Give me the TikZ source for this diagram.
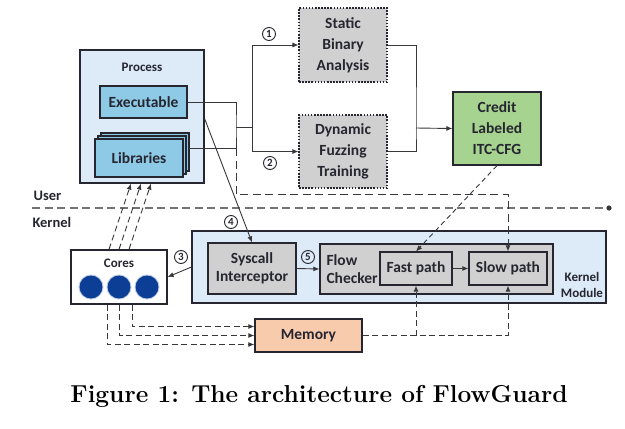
\documentclass[tikz,border=0pt]{standalone}
\usepackage{fontspec}
\usepackage{tikz}
\usetikzlibrary{arrows.meta, positioning, calc, shadows}
\newfontfamily\diagfont{Carlito}
\definecolor{procblue}{RGB}{221,234,247}
\definecolor{fileblue}{RGB}{142,202,230}
\definecolor{boxgray}{RGB}{208,208,208}
\definecolor{cfggreen}{RGB}{166,211,143}
\definecolor{memorange}{RGB}{248,203,173}
\definecolor{coreblue}{RGB}{12,62,150}
\definecolor{ink}{RGB}{38,38,48}
\definecolor{wire}{RGB}{55,55,60}
\definecolor{dashgray}{RGB}{115,115,115}
\tikzset{
    box/.style={draw=ink, line width=1.2pt, text=ink, align=center, inner sep=0pt,
        font=\diagfont\bfseries\fontsize{15.5}{21}\selectfont},
    proc_box/.style={box, fill=procblue},
    file_box/.style={box, fill=fileblue},
    gray_box/.style={box, fill=boxgray},
    dotted_box/.style={box, fill=boxgray, line width=1.1pt, dash pattern=on 1.6pt off 1.5pt},
    small_label/.style={text=ink, align=center, font=\diagfont\bfseries\fontsize{13}{16}\selectfont},
    side_label/.style={text=ink, font=\diagfont\bfseries\fontsize{14.5}{17}\selectfont},
    num_label/.style={circle, draw=ink, line width=0.9pt, minimum size=13pt, inner sep=0pt,
        text=ink, font=\diagfont\bfseries\fontsize{11}{12}\selectfont},
    core/.style={circle, fill=coreblue, minimum size=23pt, inner sep=0pt,
        preaction={draw=coreblue!25, line width=2pt}},
    wire_line/.style={draw=wire, line width=0.9pt},
    conn/.style={wire_line, -{Latex[length=6pt,width=5pt]}},
    dashed_conn/.style={conn, dash pattern=on 6pt off 3.5pt},
    dashed_line/.style={draw=dashgray, line width=1.3pt, dash pattern=on 8pt off 4.5pt}
}
\begin{document}
\begin{tikzpicture}[x=1pt, y=-1pt]
    \useasboundingbox (0,0) rectangle (625,429);
    % Process with its files
    \node[proc_box, minimum width=124pt, minimum height=133pt] (proc) at (142,116.5) {};
    \node[small_label] (proclabel) at (142,67) {Process};
    \node[file_box, minimum width=87pt, minimum height=32pt] (exe) at (143.5,102) {Executable};
    \node[file_box, minimum width=88pt, minimum height=38pt,
        double copy shadow={shadow xshift=3pt, shadow yshift=3pt}] (lib) at (139,158) {Libraries};
    % Offline analysis
    \node[dotted_box, minimum width=88pt, minimum height=74pt] (stat) at (343,45) {Static\\Binary\\Analysis};
    \node[dotted_box, minimum width=88pt, minimum height=73pt] (dyn) at (343,151.5) {Dynamic\\Fuzzing\\Training};
    \node[box, fill=cfggreen, minimum width=88pt, minimum height=73pt] (cfg) at (497,128.5) {Credit\\Labeled\\ITC-CFG};
    % Kernel module
    \node[proc_box, minimum width=414pt, minimum height=72pt] (kmod) at (399,267) {};
    \node[small_label] (kmodlabel) at (582,285) {Kernel\\Module};
    \node[gray_box, minimum width=88pt, minimum height=51pt,
        font=\diagfont\bfseries\fontsize{15.5}{18.5}\selectfont] (sys) at (252,268.5) {Syscall\\Interceptor};
    \node[gray_box, minimum width=233pt, minimum height=50pt] (flow) at (436.5,269) {};
    \node[text=ink, align=left, anchor=west,
        font=\diagfont\bfseries\fontsize{15.5}{18.5}\selectfont] (flowlabel) at (323,269) {Flow\\Checker};
    \node[gray_box, minimum width=72pt, minimum height=33pt] (fast) at (416,268.5) {Fast path};
    \node[gray_box, minimum width=78pt, minimum height=33pt] (slow) at (508,268.5) {Slow path};
    % Cores and memory
    \node[box, fill=white, minimum width=96pt, minimum height=54pt] (cores) at (119,277) {};
    \node[small_label] (coreslabel) at (119,263) {Cores};
    \foreach \i/\x in {1/91, 2/119, 3/147}
        \node[core] (core\i) at (\x,287) {};
    \node[box, fill=memorange, minimum width=107pt, minimum height=33pt] (mem) at (308.5,335.5) {Memory};
    % User / kernel boundary
    \coordinate (ukleft) at (32,208);
    \coordinate (ukright) at (609,208);
    \draw[dashed_line] (ukleft) -- (ukright);
    \fill[wire] (ukright) circle (2.6pt);
    \node[side_label, anchor=west] (user) at (30,196) {User};
    \node[side_label, anchor=west] (kernel) at (29,222) {Kernel};
    % Files to the analyses
    \coordinate (m1) at (236,127);
    \coordinate (m2) at (252,127);
    \coordinate (m3) at (416,128);
    \coordinate (libout) at (189,148);
    \draw[wire_line] (exe.east) -| (m1) |- (libout);
    \draw[wire_line] (m1) -- (m2);
    \draw[conn] (m2) |- (stat.west);
    \draw[conn] (m2) |- (dyn.west);
    \draw[wire_line] (stat.east) -| (m3) |- (dyn.east);
    \draw[conn] (m3) -- (cfg.west);
    \node[num_label] (n1) at (269,34) {1};
    \node[num_label] (n2) at (270,163) {2};
    % Runtime
    \draw[dashed_line, -{Latex[length=6pt,width=5pt]}, draw=wire, line width=0.9pt]
        (m1 |- libout) -- (236,194) -| (slow.north);
    \draw[wire_line, dash pattern=on 5pt off 3.5pt, -{Latex[length=6pt,width=5pt]}] (cfg.south) -- (fast.north);
    \draw[conn] (proc.east |- exe.south) -- (sys.north);
    \node[num_label] (n4) at (231,222) {4};
    \draw[conn] (sys.east) -- (flow.west);
    \node[num_label] (n5) at (308,257) {5};
    \draw[conn] (fast.east) -- (slow.west);
    \draw[conn] (kmod.west) -- (cores.east);
    \node[num_label] (n3) at (181,257) {3};
    \foreach \dx in {-10, 0, 10}
        \draw[dashed_conn] ($(cores.north)+(\dx,0)$) -- ($(proc.south)+(\dx-1,0)$);
    \foreach \dx/\dy in {-12/9, 0/0, 13/-9}
        \draw[dashed_conn] ($(cores.south)+(\dx,0)$) |- ($(mem.west)+(0,\dy)$);
    \draw[dashed_conn] (mem.east) -| (slow.south);
    \draw[dashed_conn] (mem.east -| fast.south) -- (fast.south);
    % Caption
    \node[anchor=base, font=\bfseries\fontsize{24.5}{29}\selectfont] (caption) at (319,402.5)
        {Figure 1: The architecture of FlowGuard};
\end{tikzpicture}
\end{document}
